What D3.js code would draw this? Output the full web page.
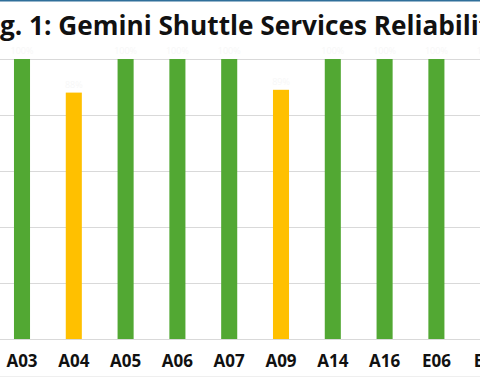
<!DOCTYPE html>
<html>
<head>
<meta charset="utf-8">
<script src="https://cdn.jsdelivr.net/npm/d3@7"></script>
<style>
  body { margin: 0; background: #fff; }
  svg { display: block; }
</style>
</head>
<body>
<div id="chart"></div>
<script>
// datos
const TITLE = "Fig. 1: Gemini Shuttle Services Reliability";
const SHUTTLES = ["A03", "A04", "A05", "A06", "A07", "A09", "A14", "A16", "E06", "E07"];
const RELIABILITY = [100, 88, 100, 100, 100, 89, 100, 100, 100, 100];
const Y_TICKS = [0, 20, 40, 60, 80, 100];

const WIDTH = 480;
const HEIGHT = 378;

const SVG = d3.select("#chart").append("svg")
    .attr("width", WIDTH).attr("height", HEIGHT);

const datos = SHUTTLES.map((s, i) => ({ shuttle: s, valor: RELIABILITY[i] }));

// banda: el grafico original esta recortado a los lados
const step = 51.8;
const x = d3.scaleBand()
    .domain(SHUTTLES)
    .range([22 - step / 2, 22 - step / 2 + step * SHUTTLES.length])
    .paddingInner(0.69)
    .paddingOuter(0.345);

const y = d3.scaleLinear()
    .domain([0, 100])
    .range([339, 59]);

// linea azul arriba
SVG.append("rect").attr("x", 0).attr("y", 0).attr("width", WIDTH).attr("height", 1.5)
    .attr("fill", "#2f6f9a");

// grilla
SVG.append("g").selectAll("line")
    .data(Y_TICKS)
    .join("line")
    .attr("x1", 0).attr("x2", WIDTH)
    .attr("y1", d => Math.round(y(d)) + 0.5)
    .attr("y2", d => Math.round(y(d)) + 0.5)
    .attr("stroke", "#d9d9d9")
    .attr("stroke-width", 1);

// barras
SVG.append("g").selectAll("rect")
    .data(datos)
    .join("rect")
    .attr("x", d => x(d.shuttle))
    .attr("width", x.bandwidth())
    .attr("y", d => y(d.valor))
    .attr("height", d => y(0) - y(d.valor))
    .attr("fill", d => d.valor >= 95 ? "#52a833" : "#ffc000");

// etiquetas de datos (casi invisibles en el original)
SVG.append("g").selectAll("text")
    .data(datos)
    .join("text")
    .attr("x", d => x(d.shuttle) + x.bandwidth() / 2)
    .attr("y", d => y(d.valor) - 5)
    .attr("text-anchor", "middle")
    .attr("font-family", "Open Sans, sans-serif")
    .attr("font-size", 9)
    .attr("fill", "#f7f7f7")
    .text(d => d.valor + "%");

// eje x
const xAxis = SVG.append("g")
    .attr("transform", `translate(0, ${y(0)})`)
    .call(d3.axisBottom(x).tickSize(0).tickPadding(16));
xAxis.select(".domain").remove();
xAxis.selectAll("text")
    .attr("font-family", "Open Sans, sans-serif")
    .attr("font-weight", "bold")
    .attr("font-size", 17)
    .attr("fill", "#111");

// linea inferior tenue
SVG.append("line")
    .attr("x1", 0).attr("x2", WIDTH)
    .attr("y1", 376.5).attr("y2", 376.5)
    .attr("stroke", "#efefef");

// titulo (recortado a ambos lados)
const title = SVG.append("text")
    .attr("y", 35)
    .attr("font-family", "Open Sans, sans-serif")
    .attr("font-weight", "bold")
    .attr("font-size", 28)
    .attr("fill", "#111")
    .text(TITLE);
// ajustar tamano para que "g. 1: ... Reliabili" ocupe el ancho visible
const visible = title.node().getSubStringLength(2, 39);
const fs = 28 * 479 / visible;
title.attr("font-size", fs);
const cut = title.node().getSubStringLength(0, 2);
title.attr("x", -cut);
</script>
</body>
</html>
